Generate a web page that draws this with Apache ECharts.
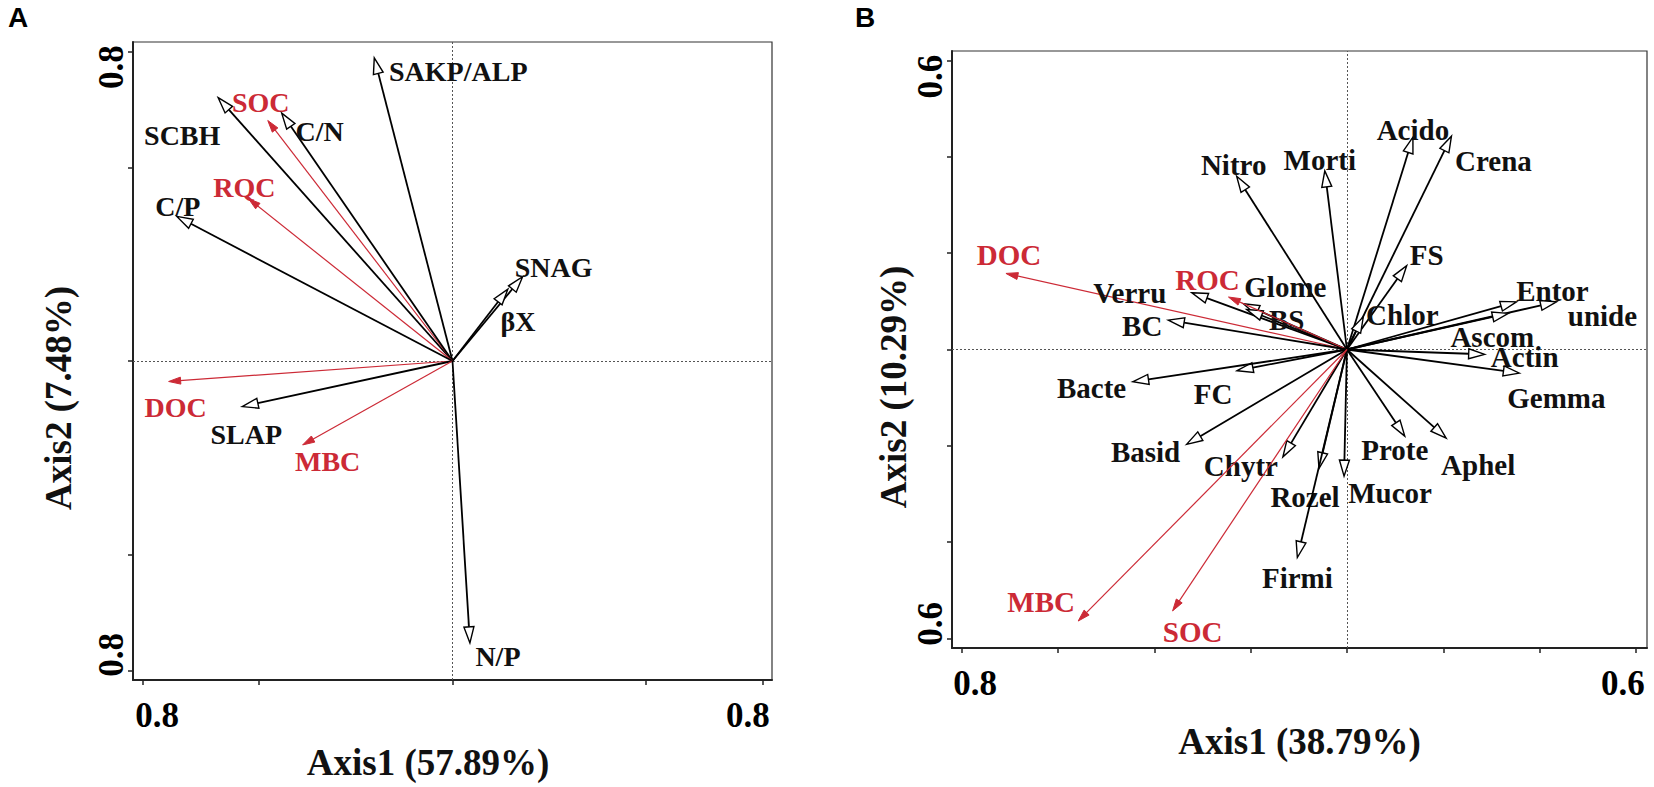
<!DOCTYPE html>
<html>
<head>
<meta charset="utf-8">
<title>RDA biplots</title>
<script src="https://cdn.jsdelivr.net/npm/echarts@6/dist/echarts.min.js"></script>
<style>
  html, body { margin: 0; padding: 0; background: #fff; }
  #main { width: 1654px; height: 787px; }
</style>
</head>
<body>
<div id="main"></div>
<script>
// ---------- panel A : soil properties vs carbon fractions
const namesA = ['SAKP/ALP', 'SCBH', 'SOC', 'C/N', 'RQC', 'C/P', 'SNAG', 'βX', 'DOC', 'SLAP', 'MBC', 'N/P'];
const axis1A = [-0.202, -0.605, -0.477, -0.441, -0.527, -0.712, 0.181, 0.143, -0.733, -0.543, -0.387, 0.045];
const axis2A = [0.784, 0.681, 0.622, 0.641, 0.420, 0.374, 0.218, 0.186, -0.053, -0.118, -0.217, -0.729];
const carbonA = ['SOC', 'RQC', 'DOC', 'MBC'];
const ticksA = [-0.8, -0.5, 0, 0.5, 0.8];
const tickTextA = ['0.8', '0.8'];

// ---------- panel B : microbial taxa vs carbon fractions
const namesB = ['DOC', 'Nitro', 'Morti', 'Acido', 'Crena', 'FS', 'Verru', 'Glome', 'BS', 'ROC', 'BC', 'Chlor',
  'Entor', 'unide', 'Ascom', 'Actin', 'Gemma', 'FC', 'Bacte', 'Basid', 'Chytr', 'Rozel', 'Mucor', 'Firmi',
  'Prote', 'Aphel', 'MBC', 'SOC'];
const axis1B = [-0.708, -0.229, -0.046, 0.137, 0.217, 0.124, -0.322, -0.215, -0.208, -0.246, -0.371, 0.034,
  0.352, 0.435, 0.335, 0.286, 0.358, -0.228, -0.445, -0.333, -0.133, -0.058, -0.006, -0.103,
  0.120, 0.206, -0.558, -0.362];
const axis2B = [0.158, 0.360, 0.371, 0.441, 0.443, 0.174, 0.118, 0.095, 0.083, 0.109, 0.061, 0.068,
  0.099, 0.099, 0.075, -0.010, -0.049, -0.044, -0.067, -0.197, -0.223, -0.247, -0.263, -0.432,
  -0.180, -0.184, -0.564, -0.543];
const carbonB = ['DOC', 'ROC', 'MBC', 'SOC'];
const ticksBx = [-0.8, -0.6, -0.4, -0.2, 0, 0.2, 0.4, 0.6];
const ticksBy = [-0.6, -0.4, -0.2, 0, 0.2, 0.4, 0.6];
const tickTextBx = ['0.8', '0.6'];
const tickTextBy = ['0.6', '0.6'];

// ---------- layout / style
const SERIF = '"Liberation Serif", "Times New Roman", serif';
const RED = '#cc2a36';

// label centre offset from arrow tip, px
const offA = {
  'SAKP/ALP': [84, 14], 'SCBH': [-36, 38], 'SOC': [-7, -18], 'C/N': [38, 18], 'RQC': [-4, -11],
  'C/P': [1, -10], 'SNAG': [31, -9], 'βX': [10, 32], 'DOC': [7, 26], 'SLAP': [4, 28],
  'MBC': [25, 17], 'N/P': [28, 14]
};
const offB = {
  'DOC': [3, -18], 'Nitro': [-3, -11], 'Morti': [-5, -11], 'Acido': [0, -7], 'Crena': [42, 25],
  'FS': [20, -11], 'Verru': [-62, 0], 'ROC': [-21, -17], 'Glome': [42, -17], 'BS': [40, 10],
  'BC': [-26, 6], 'Chlor': [39, -2], 'Entor': [36, -11], 'unide': [46, 14], 'Ascom': [-16, 24],
  'Actin': [40, 3], 'Gemma': [37, 25], 'FC': [-24, 23], 'Bacte': [-41, 6], 'Basid': [-41, 8],
  'Chytr': [-42, 9], 'Rozel': [-14, 29], 'Mucor': [46, 17], 'Firmi': [0, 21], 'Prote': [-10, 14],
  'Aphel': [32, 27], 'MBC': [-37, -19], 'SOC': [20, 21]
};

function arrows(gi, names, xs, ys, carbon, offsets, fontSize) {
  return {
    type: 'custom',
    xAxisIndex: gi,
    yAxisIndex: gi,
    silent: true,
    animation: false,
    z: 5,
    data: names.map(function (n, i) { return [xs[i], ys[i], i]; }),
    renderItem: function (params, api) {
      const i = api.value(2);
      const name = names[i];
      const red = carbon.indexOf(name) >= 0;
      const o = api.coord([0, 0]);
      const t = api.coord([api.value(0), api.value(1)]);
      const dx = t[0] - o[0], dy = t[1] - o[1];
      const len = Math.sqrt(dx * dx + dy * dy);
      const ux = dx / len, uy = dy / len;
      const L = red ? 12 : 16, W = red ? 7 : 10;
      const bx = t[0] - ux * L, by = t[1] - uy * L;
      const nx = -uy * W / 2, ny = ux * W / 2;
      const off = offsets[name] || [0, 0];
      return {
        type: 'group',
        children: [{
          type: 'line',
          shape: { x1: o[0], y1: o[1], x2: red ? t[0] - ux * 4 : bx, y2: red ? t[1] - uy * 4 : by },
          style: { stroke: red ? RED : '#000', lineWidth: red ? 1.2 : 1.8 }
        }, {
          type: 'polygon',
          shape: { points: [[t[0], t[1]], [bx + nx, by + ny], [bx - nx, by - ny]] },
          style: { fill: red ? RED : '#fff', stroke: red ? RED : '#000', lineWidth: red ? 1 : 1.4 }
        }, {
          type: 'text',
          x: t[0] + off[0],
          y: t[1] + off[1],
          style: {
            text: name,
            fill: red ? RED : '#111',
            font: 'bold ' + fontSize + 'px ' + SERIF,
            align: 'center',
            verticalAlign: 'middle'
          }
        }]
      };
    }
  };
}

function zeroLines(gi) {
  return {
    type: 'line',
    xAxisIndex: gi,
    yAxisIndex: gi,
    data: [],
    silent: true,
    markLine: {
      symbol: 'none',
      silent: true,
      animation: false,
      label: { show: false },
      lineStyle: { color: '#555', width: 1, type: [2, 2] },
      data: [{ xAxis: 0 }, { yAxis: 0 }]
    }
  };
}

function valueAxis(gi, min, max, ticks, labelAt, labelText, isY, name, nameGap, shift) {
  return {
    gridIndex: gi,
    type: 'value',
    min: min,
    max: max,
    axisLine: { show: true, onZero: false, lineStyle: { color: '#222', width: 2 } },
    axisTick: { show: true, customValues: ticks, length: 5, lineStyle: { color: '#222', width: 1.5 } },
    splitLine: { show: false },
    axisLabel: {
      customValues: labelAt,
      formatter: function (v, idx) { return labelText[labelAt.indexOf(v)]; },
      rotate: isY ? 90 : 0,
      margin: isY ? 4 : 18,
      color: '#000',
      fontSize: 35,
      fontWeight: 'bold',
      fontFamily: SERIF
    },
    name: name,
    nameLocation: 'middle',
    nameGap: nameGap,
    nameTextStyle: {
      color: '#111',
      fontSize: 37,
      fontWeight: 'bold',
      fontFamily: SERIF,
      padding: shift
    }
  };
}

const chart = echarts.init(document.getElementById('main'), null, { renderer: 'svg' });
chart.setOption({
  backgroundColor: '#fff',
  animation: false,
  graphic: [
    { type: 'text', left: 8, top: 3, style: { text: 'A', font: 'bold 28px "Liberation Sans", Arial, sans-serif', fill: '#000' } },
    { type: 'text', left: 855, top: 3, style: { text: 'B', font: 'bold 28px "Liberation Sans", Arial, sans-serif', fill: '#000' } }
  ],
  grid: [
    { left: 133, top: 42, width: 639, height: 638, show: true, borderColor: '#333', borderWidth: 1.2 },
    { left: 952, top: 51, width: 695, height: 597, show: true, borderColor: '#333', borderWidth: 1.2 }
  ],
  xAxis: [
    valueAxis(0, -0.825, 0.825, ticksA, [-0.763, 0.763], tickTextA, false, 'Axis1 (57.89%)', 64, [0, 49, 0, 0]),
    valueAxis(1, -0.82, 0.623, ticksBx, [-0.772, 0.573], tickTextBx, false, 'Axis1 (38.79%)', 75, [0, 0, 0, 0])
  ],
  yAxis: [
    valueAxis(0, -0.825, 0.825, ticksA, [-0.76, 0.76], tickTextA, true, 'Axis2 (7.48%)', 56, [0, 74, 0, 0]),
    valueAxis(1, -0.62, 0.62, ticksBy, [-0.57, 0.567], tickTextBy, true, 'Axis2 (10.29%)', 28, [0, 75, 0, 0])
  ],
  series: [
    zeroLines(0),
    zeroLines(1),
    arrows(0, namesA, axis1A, axis2A, carbonA, offA, 28),
    arrows(1, namesB, axis1B, axis2B, carbonB, offB, 29)
  ]
});
</script>
</body>
</html>
